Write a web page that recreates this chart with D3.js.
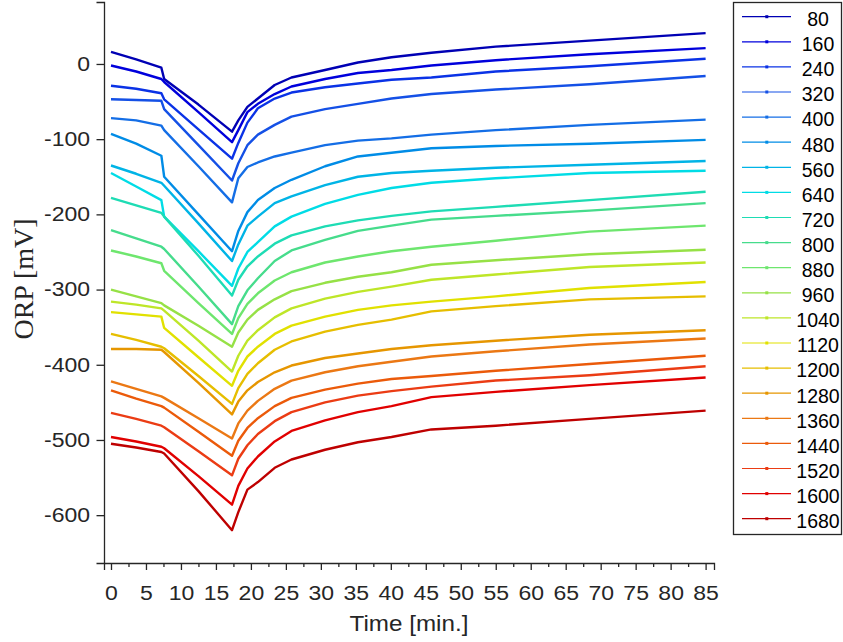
<!DOCTYPE html>
<html>
<head>
<meta charset="utf-8">
<script src="https://cdn.jsdelivr.net/npm/d3@7"></script>
<style>
  body { margin: 0; background: #fff; }
  svg { display: block; }
  .tick text { font-family: "Liberation Sans", Arial, sans-serif; font-size: 20px; fill: #262626; }
  .domain, .tick line { stroke: #262626; stroke-width: 1.3; }
</style>
</head>
<body>
<svg id="chart" width="843" height="642"></svg>
<script>
// sample times (min.)
const times = [0, 3.6, 7.2, 7.6, 12.5, 17.3, 18.2, 19.5, 21, 23.4, 25.8, 30.6, 35.3, 40.1, 45.8, 55, 68.4, 85]

// ORP readings (mV), one array per legend entry
const v80   = [16, 6, -5, -20, -54, -90, -75, -57, -46, -28, -18, -8, 2, 9, 15, 23, 31, 41]
const v160  = [-2, -10, -20, -24, -64, -104, -88, -64, -53, -40, -30, -20, -12, -8, -2, 5, 13, 21]
const v240  = [-29, -33, -39, -47, -87, -126, -105, -78, -59, -46, -38, -31, -26, -21, -18, -10, -3, 7]
const v320  = [-47, -48, -49, -60, -108, -155, -132, -108, -94, -81, -70, -60, -53, -46, -40, -34, -27, -16]
const v400  = [-72, -75, -82, -88, -136, -184, -152, -137, -131, -123, -118, -108, -102, -99, -94, -88, -81, -74]
const v480  = [-93, -106, -122, -150, -200, -249, -222, -197, -181, -165, -154, -136, -123, -118, -112, -109, -106, -101]
const v560  = [-135, -146, -158, -162, -212, -262, -240, -215, -203, -185, -176, -161, -150, -145, -142, -138, -134, -129]
const v640  = [-145, -163, -181, -203, -249, -295, -272, -250, -237, -216, -203, -186, -174, -165, -158, -152, -145, -142]
const v720  = [-178, -188, -198, -203, -255, -308, -287, -269, -256, -239, -228, -216, -208, -202, -196, -190, -181, -170]
const v800  = [-221, -232, -243, -246, -296, -346, -322, -301, -285, -262, -248, -234, -222, -215, -207, -202, -195, -185]
const v880  = [-248, -256, -265, -275, -318, -359, -338, -319, -305, -288, -277, -264, -256, -249, -243, -235, -223, -215]
const v960  = [-300, -309, -318, -321, -348, -376, -357, -340, -327, -313, -302, -291, -283, -277, -267, -261, -253, -247]
const v1040 = [-316, -320, -325, -328, -368, -409, -388, -368, -354, -337, -325, -312, -303, -296, -287, -280, -270, -264]
const v1120 = [-330, -333, -336, -351, -390, -428, -408, -389, -376, -359, -348, -336, -327, -321, -316, -309, -298, -290]
const v1200 = [-359, -367, -376, -378, -415, -452, -431, -412, -398, -380, -369, -356, -347, -340, -329, -322, -313, -309]
const v1280 = [-379, -379, -380, -383, -424, -466, -449, -434, -423, -410, -401, -391, -385, -379, -374, -368, -360, -354]
const v1360 = [-422, -432, -442, -444, -471, -498, -478, -461, -448, -432, -421, -410, -402, -396, -389, -382, -373, -365]
const v1440 = [-434, -445, -455, -457, -489, -521, -501, -484, -471, -455, -444, -433, -425, -419, -415, -408, -399, -388]
const v1520 = [-464, -472, -481, -483, -515, -547, -525, -507, -492, -475, -463, -450, -441, -435, -429, -421, -414, -402]
const v1600 = [-496, -502, -509, -511, -548, -586, -561, -538, -522, -502, -488, -474, -463, -455, -443, -436, -427, -417]
const v1680 = [-505, -510, -516, -518, -568, -620, -596, -566, -556, -537, -526, -513, -503, -496, -486, -481, -472, -461]

const labels = ["80","160","240","320","400","480","560","640","720","800","880","960","1040","1120","1200","1280","1360","1440","1520","1600","1680"]
const seriesValues = [v80,v160,v240,v320,v400,v480,v560,v640,v720,v800,v880,v960,v1040,v1120,v1200,v1280,v1360,v1440,v1520,v1600,v1680]
const colors = ["#0000b4","#0000dc","#0a32e6","#1450e6","#146ee6","#008ce6","#00b4e6","#00dce6","#1edcb4","#46dc8c","#6ee66e","#96e146","#bee628","#e1e100","#e6be00","#e69600","#eb7814","#eb5a0a","#eb3c14","#e10000","#be0000"]
const yTicks = [0,-100,-200,-300,-400,-500,-600]

const svg = d3.select("#chart")
svg.append("rect").attr("width",843).attr("height",642).attr("fill","#fff")

const x = d3.scaleLinear().domain([-1, 86.2]).range([104, 714])
const y = d3.scaleLinear().domain([-663.6, 82.4]).range([563, 2])

// widen glyphs a bit, the source text is drawn wider than Arial
function stretch(sel, k) {
  sel.each(function() {
    const w = this.getComputedTextLength()
    this.setAttribute("textLength", w * k)
    this.setAttribute("lengthAdjust", "spacingAndGlyphs")
  })
}

// lines
const line = d3.line().x((d,i)=>x(times[i])).y(d=>y(d))
svg.append("g").selectAll("path")
  .data(seriesValues)
  .enter().append("path")
  .attr("d", d=>line(d))
  .attr("fill","none")
  .attr("stroke",(d,i)=>colors[i])
  .attr("stroke-width",2.4)
  .attr("stroke-linejoin","round")

// axes
const fmt = d => String(d)
const xAx = svg.append("g")
  .attr("transform","translate(0,563)")
  .call(d3.axisBottom(x).tickValues(d3.range(0,86,5)).tickSize(7).tickPadding(15.8).tickFormat(fmt))
svg.append("g")
  .attr("transform","translate(0,563)")
  .call(d3.axisBottom(x).tickValues(d3.range(2.5,86,5)).tickSize(4).tickFormat(""))
  .select(".domain").remove()
const yAx = svg.append("g")
  .attr("transform","translate(104,0)")
  .call(d3.axisLeft(y).tickValues(yTicks).tickSize(7.5).tickPadding(6.5).tickFormat(fmt))
stretch(xAx.selectAll(".tick text"), 1.15)
stretch(yAx.selectAll(".tick text"), 1.15)

const xt = svg.append("text")
  .attr("x",409).attr("y",631)
  .attr("text-anchor","middle")
  .attr("font-family","'Liberation Sans', Arial, sans-serif")
  .attr("font-size",22).attr("fill","#262626")
  .text("Time [min.]")
stretch(xt, 1.1)

svg.append("text")
  .attr("transform","translate(33,279) rotate(-90)")
  .attr("text-anchor","middle")
  .attr("font-family","'Liberation Serif', 'Times New Roman', serif")
  .attr("font-size",28).attr("fill","#262626")
  .text("ORP [mV]")

// legend
const lg = svg.append("g")
lg.append("rect")
  .attr("x",733.5).attr("y",2.5).attr("width",108).attr("height",532)
  .attr("fill","#fff").attr("stroke","#262626").attr("stroke-width",1.3)
const item = lg.selectAll("g.item").data(labels).enter().append("g")
  .attr("class","item")
  .attr("transform",(d,i)=>`translate(0,${16.7 + i*25.1})`)
item.append("line")
  .attr("x1",742).attr("x2",791)
  .attr("stroke",(d,i)=>colors[i]).attr("stroke-width",1.2)
item.append("rect")
  .attr("x",765.3).attr("y",-1.5).attr("width",3).attr("height",3)
  .attr("fill",(d,i)=>colors[i])
item.append("text")
  .attr("x",818).attr("y",2.5)
  .attr("dy","0.35em")
  .attr("text-anchor","middle")
  .attr("font-family","'Liberation Sans', Arial, sans-serif")
  .attr("font-size",19.5).attr("fill","#000")
  .text(d=>d)
</script>
</body>
</html>
